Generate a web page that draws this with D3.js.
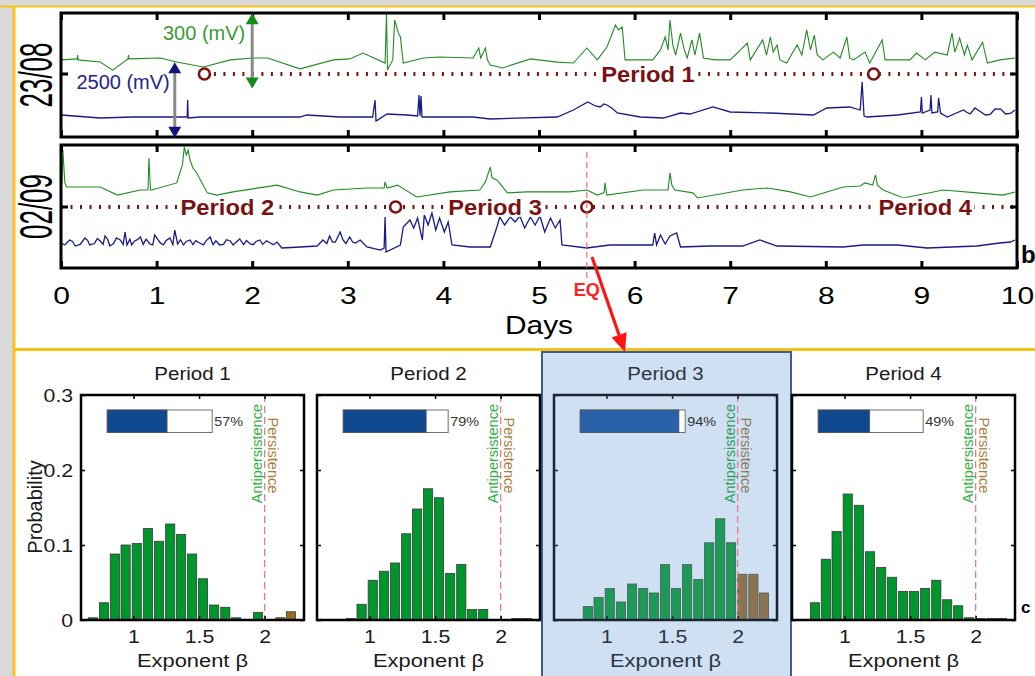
<!DOCTYPE html>
<html><head><meta charset="utf-8">
<script src="https://cdn.jsdelivr.net/npm/d3@7"></script>
<style>
body{margin:0;background:#d9d9d9;}
svg{display:block;font-family:"Liberation Sans",Arial,Helvetica,sans-serif;}
</style></head>
<body><svg id="c" width="1035" height="676"></svg>
<script>
// ================= DATA =================
const dayTicks = [0,1,2,3,4,5,6,7,8,9,10];
const dateLabels = ["23/08","02/09"];
// Green channel (mV, relative to the dotted reference line)
const green1 = [[0,58],[0.17,62],[0.173,78],[0.18,58],[0.41,49],[0.54,16],[0.70,62],[0.706,78],[0.71,62],[1.04,66],[1.21,49],[1.49,29],[1.77,58],[2.01,66],[2.16,66],[2.50,21],[2.85,58],[3.02,62],[3.16,86],[3.39,45],[3.405,251],[3.415,16],[3.47,58],[3.49,222],[3.53,168],[3.55,152],[3.58,45],[3.79,66],[3.96,70],[4.31,66],[4.37,107],[4.39,66],[4.44,107],[4.46,58],[4.49,37],[4.62,25],[4.91,62],[5.19,49],[5.36,45],[5.50,107],[5.61,58],[5.71,111],[5.76,160],[5.80,201],[5.83,181],[5.87,193],[5.88,152],[5.90,58],[6.19,58],[6.27,99],[6.32,152],[6.35,99],[6.37,222],[6.40,119],[6.43,78],[6.48,168],[6.52,99],[6.55,66],[6.60,140],[6.63,78],[6.68,168],[6.72,66],[6.84,58],[7.00,58],[7.18,127],[7.21,58],[7.34,140],[7.38,78],[7.42,152],[7.45,90],[7.49,119],[7.52,58],[7.59,45],[7.70,119],[7.75,78],[7.80,181],[7.84,99],[7.88,160],[7.91,78],[7.97,58],[8.08,90],[8.15,66],[8.22,152],[8.25,66],[8.29,58],[8.41,90],[8.46,45],[8.59,140],[8.62,58],[8.88,58],[8.95,86],[9.04,58],[9.14,90],[9.27,78],[9.32,168],[9.35,90],[9.40,148],[9.45,78],[9.48,119],[9.53,58],[9.64,131],[9.69,45],[9.82,58],[9.98,66]];
const green2 = [[0,247],[0.01,99],[0.02,234],[0.04,99],[0.06,82],[0.41,82],[0.59,49],[0.83,70],[0.91,70],[0.92,201],[0.936,70],[0.95,70],[1.21,99],[1.27,173],[1.29,247],[1.31,214],[1.33,234],[1.35,193],[1.38,160],[1.42,140],[1.53,58],[1.63,49],[1.80,62],[2.26,90],[2.50,62],[2.68,49],[2.85,70],[3.20,78],[3.38,78],[3.39,103],[3.41,78],[3.52,90],[3.72,41],[4.07,62],[4.38,70],[4.44,103],[4.49,164],[4.51,119],[4.56,111],[4.67,58],[4.87,62],[5.32,62],[5.50,70],[5.61,49],[5.68,58],[5.69,99],[5.71,49],[6.09,70],[6.35,70],[6.37,140],[6.39,90],[6.42,70],[6.61,58],[6.66,37],[7.13,70],[7.39,78],[7.63,62],[7.84,41],[8.18,82],[8.36,86],[8.41,99],[8.49,90],[8.52,132],[8.54,90],[8.60,70],[8.81,37],[9.23,70],[9.58,58],[9.85,49],[9.98,62]];
// Blue channel (mV, relative to the dotted reference line)
const blue1 = [[0,-1404],[0.41,-1507],[0.75,-1473],[1.32,-1473],[1.325,-890],[1.33,-1507],[1.45,-1473],[2.50,-1473],[2.57,-1404],[2.92,-1473],[3.26,-1473],[3.285,-890],[3.295,-1610],[3.41,-1370],[3.62,-1404],[3.73,-1438],[3.745,-719],[3.755,-1438],[3.766,-753],[3.776,-1473],[4.31,-1473],[4.49,-1541],[5.19,-1473],[5.36,-1233],[5.51,-959],[5.59,-1096],[5.64,-1130],[5.68,-1027],[5.71,-1062],[5.76,-1164],[5.82,-1336],[6.06,-1473],[6.30,-1507],[6.48,-1336],[6.58,-1370],[6.82,-1130],[7.00,-1301],[7.42,-1336],[7.87,-1404],[8.01,-1164],[8.25,-1130],[8.36,-1233],[8.38,-274],[8.40,-1438],[8.43,-1473],[8.75,-1404],[8.99,-1301],[9.00,-788],[9.01,-1336],[9.09,-1233],[9.10,-719],[9.11,-1336],[9.17,-1301],[9.18,-822],[9.20,-1336],[9.27,-1473],[9.44,-1233],[9.47,-1300],[9.51,-1370],[9.56,-1164],[9.60,-1250],[9.67,-1404],[9.72,-1380],[9.77,-1199],[9.83,-1200],[9.88,-1370],[9.93,-1350],[9.98,-1233]];
const blue2 = [[0,-1233],[0.04,-1300],[0.09,-1130],[0.12,-1180],[0.15,-1336],[0.20,-1280],[0.25,-1062],[0.28,-1150],[0.30,-1301],[0.35,-1250],[0.38,-1080],[0.41,-1164],[0.44,-1280],[0.46,-993],[0.49,-1120],[0.51,-1336],[0.55,-1250],[0.58,-1060],[0.62,-1130],[0.65,-1280],[0.67,-856],[0.69,-1301],[0.72,-1100],[0.74,-1300],[0.77,-1164],[0.80,-1120],[0.83,-1027],[0.86,-1280],[0.89,-1100],[0.93,-1267],[0.96,-1300],[0.98,-959],[1.01,-1100],[1.04,-1233],[1.07,-1300],[1.10,-1150],[1.14,-1062],[1.17,-1290],[1.19,-788],[1.22,-1267],[1.25,-1120],[1.28,-1300],[1.31,-1180],[1.35,-1130],[1.38,-1290],[1.41,-1150],[1.45,-1233],[1.49,-1300],[1.52,-1150],[1.56,-1027],[1.59,-1290],[1.62,-1160],[1.66,-1301],[1.70,-1280],[1.73,-1120],[1.77,-1164],[1.80,-1300],[1.84,-1180],[1.87,-1096],[1.91,-1290],[1.94,-1150],[1.98,-1267],[2.01,-1290],[2.04,-1180],[2.08,-1130],[2.11,-1280],[2.15,-1160],[2.19,-1233],[2.22,-1290],[2.26,-1199],[2.31,-1404],[2.50,-1370],[2.68,-1336],[2.74,-1130],[2.78,-1250],[2.81,-993],[2.84,-1200],[2.87,-1199],[2.92,-856],[2.95,-1130],[2.98,-1250],[3.02,-1027],[3.05,-1200],[3.08,-1233],[3.13,-1130],[3.20,-1370],[3.34,-1473],[3.38,-1404],[3.39,-342],[3.40,-1541],[3.55,-1301],[3.58,-685],[3.63,-514],[3.65,-445],[3.69,-719],[3.73,-377],[3.78,-1130],[3.80,-274],[3.84,-616],[3.88,-205],[3.92,-788],[3.96,-377],[4.01,-856],[4.05,-514],[4.09,-1301],[4.28,-1370],[4.49,-1370],[4.56,-685],[4.59,-342],[4.64,-616],[4.70,-342],[4.75,-514],[4.80,-308],[4.85,-719],[4.91,-342],[4.96,-616],[5.01,-308],[5.06,-856],[5.12,-377],[5.17,-719],[5.22,-445],[5.24,-1301],[5.50,-1404],[5.74,-1301],[6.19,-1301],[6.21,-890],[6.23,-1301],[6.27,-959],[6.32,-1267],[6.37,-993],[6.44,-890],[6.48,-1370],[6.79,-1336],[7.13,-1336],[7.31,-1130],[7.49,-1336],[8.18,-1370],[8.39,-1301],[8.75,-1301],[9.06,-1404],[9.58,-1336],[9.82,-1233],[9.93,-1199],[9.98,-1130]];
// Period boundaries (days) and labels
const markers1 = [1.5, 8.5];
const markers2 = [3.5, 5.5];
const periodLabels = [{panel:0, day:6.14, text:"Period 1"},{panel:1, day:1.74, text:"Period 2"},{panel:1, day:4.54, text:"Period 3"},{panel:1, day:9.04, text:"Period 4"}];
const eqDay = 5.5;
// scale bars (mV)
const greenBar = {day:2.0, lo:-60, hi:250, label:"300 (mV)"};
const blueBar  = {day:1.19, lo:-2180, hi:400, label:"2500 (mV)"};
// Histograms of exponent beta
const periods = ["Period 1","Period 2","Period 3","Period 4"];
const binCenters = [0.69,0.775,0.858,0.94,1.025,1.11,1.195,1.28,1.363,1.447,1.53,1.615,1.70,1.783,1.867,1.95,2.035,2.12,2.20];
const prob1 = [0.003,0.023,0.088,0.100,0.102,0.122,0.105,0.128,0.114,0.088,0.055,0.020,0.017,0.003,0,0.010,0,0.003,0.011];
const prob2 = [0,0,0.002,0.021,0.053,0.065,0.076,0.115,0.148,0.175,0.163,0.062,0.074,0.014,0.014,0,0,0.002,0.002];
const prob3 = [0,0,0.018,0.030,0.042,0.024,0.048,0.042,0.036,0.074,0.042,0.074,0.054,0.103,0.135,0.103,0.061,0.061,0.036];
const prob4 = [0,0.023,0.081,0.118,0.168,0.153,0.091,0.070,0.057,0.038,0.038,0.042,0.053,0.027,0.019,0.003,0.002,0.002,0.002];
const probs = [prob1,prob2,prob3,prob4];
const percents = [57,79,94,49];
const betaTicks = [1,1.5,2];
const probTicks = [0,0.1,0.2,0.3];

// ================= DRAW =================
const W=1035,H=676;
const svg=d3.select('#c');
const FONT='"Liberation Sans",Arial,sans-serif';

svg.append('rect').attr('width',W).attr('height',H).attr('fill','#d9d9d9');
svg.append('rect').attr('x',14).attr('y',7).attr('width',W-14).attr('height',H-7).attr('fill','#ffffff');
// highlight for period 3
svg.append('rect').attr('x',542).attr('y',352).attr('width',249).attr('height',340)
  .attr('fill','#cfe0f2').attr('stroke','#3d5c99').attr('stroke-width',2);
// yellow frame
const yel='#f7c21a';
svg.append('line').attr('x1',0).attr('x2',W).attr('y1',6.5).attr('y2',6.5).attr('stroke',yel).attr('stroke-width',2);
svg.append('line').attr('x1',14).attr('x2',14).attr('y1',6).attr('y2',H).attr('stroke',yel).attr('stroke-width',3);
svg.append('line').attr('x1',14).attr('x2',W).attr('y1',349.5).attr('y2',349.5).attr('stroke',yel).attr('stroke-width',3);

function txt(g,x,y,s,o){
  o=o||{};
  const sx=o.sx||1;
  let tr=`translate(${x},${y}) scale(${sx},1)`;
  if(o.rot) tr+=` rotate(${o.rot})`;
  return g.append('text').attr('transform',tr).attr('text-anchor',o.anchor||'start')
    .attr('font-size',o.size||16).attr('font-weight',o.bold?'bold':'normal')
    .attr('fill',o.fill||'#000').attr('font-family',FONT).text(s);
}

// ---------- top time series ----------
const x=d3.scaleLinear().domain([0,10]).range([61,1017]);
const panels=[{top:13,bottom:137,mid:74,g:green1,b:blue1},{top:145,bottom:268,mid:207,g:green2,b:blue2}];
const gCol='#228c22', bCol='#1a1a8a', dark='#7a1212';
panels.forEach((p,i)=>{
  const yG=d3.scaleLinear().domain([0,300]).range([p.mid,p.mid-73]);
  const yB=d3.scaleLinear().domain([0,2500]).range([p.mid,p.mid-73]);
  p.yG=yG; p.yB=yB;
  const gp=svg.append('g');
  const x0 = i===0 ? x(markers1[0]) : x(0);
  gp.append('line').attr('x1',x0).attr('x2',x(10)-4).attr('y1',p.mid).attr('y2',p.mid)
    .attr('stroke',dark).attr('stroke-width',4).attr('stroke-dasharray','2 7.5');
  gp.append('path').datum(p.g).attr('fill','none').attr('stroke',gCol).attr('stroke-width',1.1)
    .attr('d',d3.line().x(d=>x(d[0])).y(d=>yG(d[1])));
  gp.append('path').datum(p.b).attr('fill','none').attr('stroke',bCol).attr('stroke-width',1.3)
    .attr('d',d3.line().x(d=>x(d[0])).y(d=>yB(d[1])));
  gp.append('rect').attr('x',x(0)).attr('y',p.top).attr('width',x(10)-x(0)).attr('height',p.bottom-p.top)
    .attr('fill','none').attr('stroke','#000').attr('stroke-width',3);
  const at=gp.append('g').attr('transform',`translate(0,${p.top})`)
    .call(d3.axisTop(x).tickValues(dayTicks).tickSize(-7).tickFormat(''));
  const ab=gp.append('g').attr('transform',`translate(0,${p.bottom})`)
    .call(d3.axisBottom(x).tickValues(dayTicks).tickSize(-7).tickPadding(19)
      .tickFormat(i===1? d3.format('d') : ''));
  [at,ab].forEach(a=>{a.select('.domain').remove();a.selectAll('line').attr('stroke','#000').attr('stroke-width',3);});
  ab.selectAll('text').attr('font-size',24).attr('fill','#000').attr('font-family',FONT).attr('transform','scale(1.25,1)');
  gp.append('line').attr('x1',x(0)).attr('x2',x(0)+7).attr('y1',p.mid).attr('y2',p.mid).attr('stroke','#000').attr('stroke-width',3);
  gp.append('line').attr('x1',x(10)-7).attr('x2',x(10)).attr('y1',p.mid).attr('y2',p.mid).attr('stroke','#000').attr('stroke-width',3);
  txt(svg,52,(p.top+p.bottom)/2,dateLabels[i],{size:26,sx:1.75,rot:-90,anchor:'middle'});
});
[[0,markers1],[1,markers2]].forEach(([pi,ms])=>{
  svg.selectAll(null).data(ms).enter().append('circle')
    .attr('cx',d=>x(d)).attr('cy',panels[pi].mid).attr('r',5.5)
    .attr('fill','#fff').attr('stroke',dark).attr('stroke-width',2.6);
});
periodLabels.forEach(pl=>{
  const p=panels[pl.panel];
  const g=svg.append('g').attr('transform',`translate(${x(pl.day)},${p.mid+8}) scale(1.08,1)`);
  const t=g.append('text').attr('text-anchor','middle').attr('font-size',22).attr('font-weight','bold')
    .attr('fill',dark).attr('font-family',FONT).text(pl.text);
  const bb=t.node().getBBox();
  g.insert('rect','text').attr('x',bb.x-2).attr('y',bb.y+3).attr('width',bb.width+4).attr('height',bb.height-6).attr('fill','#fff');
});
function vArrow(xx,y1,y2,headCol){
  svg.append('line').attr('x1',xx).attr('x2',xx).attr('y1',y1+8).attr('y2',y2-8).attr('stroke','#8a8a8a').attr('stroke-width',3);
  svg.append('path').attr('d',`M${xx},${y1} L${xx-6.5},${y1+11} L${xx+6.5},${y1+11}Z`).attr('fill',headCol);
  svg.append('path').attr('d',`M${xx},${y2} L${xx-6.5},${y2-11} L${xx+6.5},${y2-11}Z`).attr('fill',headCol);
}
vArrow(x(greenBar.day),panels[0].yG(greenBar.hi),panels[0].yG(greenBar.lo),'#168a16');
vArrow(x(blueBar.day),panels[0].yB(blueBar.hi),panels[0].yB(blueBar.lo),'#14147e');
txt(svg,x(greenBar.day)-7,40,greenBar.label,{size:20,fill:'#3a9a3a',anchor:'end'});
txt(svg,x(blueBar.day)-5,89,blueBar.label,{size:20,fill:'#24248e',anchor:'end'});
svg.append('line').attr('x1',x(eqDay)).attr('x2',x(eqDay)).attr('y1',152).attr('y2',279)
  .attr('stroke','#ff6a6a').attr('stroke-width',1.2).attr('stroke-dasharray','6 4');
txt(svg,x(eqDay),296,'EQ',{size:18,bold:true,fill:'#ff2020',anchor:'middle'});
txt(svg,539,334,'Days',{size:26,sx:1.15,anchor:'middle'});
txt(svg,1021,263,'b',{size:24,bold:true});
(function(){
  const x1=592,y1=257,x2=625,y2=352;
  const dx=x2-x1,dy=y2-y1,len=Math.hypot(dx,dy),ux=dx/len,uy=dy/len;
  const hl=18,hw=8;
  const bx=x2-ux*hl,by=y2-uy*hl;
  svg.append('line').attr('x1',x1).attr('y1',y1).attr('x2',bx).attr('y2',by).attr('stroke','#ff1414').attr('stroke-width',3.2);
  svg.append('path').attr('d',`M${x2},${y2} L${bx-uy*hw},${by+ux*hw} L${bx+uy*hw},${by-ux*hw}Z`).attr('fill','#ff1414');
})();

// ---------- histograms ----------
const hLeft=[81,317,554,792], hW=223, hTop=395, hBot=620;
const y=d3.scaleLinear().domain([0,0.3]).range([hBot,hTop]);
periods.forEach((name,i)=>{
  const hx=d3.scaleLinear().domain([0.6,2.3]).range([hLeft[i],hLeft[i]+hW]);
  const hl=i===2;
  const tcol=hl?'#2a3646':'#1a1a1a';
  const g=svg.append('g');
  if(!hl) g.append('rect').attr('x',hLeft[i]).attr('y',hTop).attr('width',hW).attr('height',hBot-hTop).attr('fill','#fff');
  const bw=0.07;
  g.selectAll('rect.bar').data(binCenters.map((c,k)=>({c,v:probs[i][k]})).filter(d=>d.v>0)).enter()
    .append('rect').attr('class','bar')
    .attr('x',d=>hx(d.c-bw/2)).attr('width',d=>hx(d.c+bw/2)-hx(d.c-bw/2))
    .attr('y',d=>y(d.v)).attr('height',d=>y(0)-y(d.v))
    .attr('fill',d=>d.c<2?(hl?'#1e9a58':'#00962e'):(hl?'#8c7452':'#9a6a1e'))
    .attr('stroke',hl?'#4a5a5a':'#3a3a3a').attr('stroke-width',0.8);
  g.append('line').attr('x1',hx(2)).attr('x2',hx(2)).attr('y1',hTop).attr('y2',hBot)
    .attr('stroke','#f07a8a').attr('stroke-width',1.3).attr('stroke-dasharray','7 4');
  txt(g,hx(2)-3,y(0.288),'Antipersistence',{size:14.5,rot:-90,anchor:'end',fill:hl?'#2aa060':'#2fb040'});
  txt(g,hx(2)+3,y(0.27),'Persistence',{size:14.5,rot:90,anchor:'start',fill:hl?'#8c7a60':'#a8803c'});
  const px0=hx(0.8), px1=hx(1.6);
  g.append('rect').attr('x',px0).attr('y',y(0.28)).attr('width',px1-px0).attr('height',y(0.25)-y(0.28))
    .attr('fill','#fff').attr('stroke','#707070').attr('stroke-width',1);
  g.append('rect').attr('x',px0).attr('y',y(0.28)).attr('width',(px1-px0)*percents[i]/100).attr('height',y(0.25)-y(0.28))
    .attr('fill',hl?'#2a62aa':'#0f4a90').attr('stroke','#555').attr('stroke-width',0.8);
  txt(g,px1+2,y(0.265)+5,percents[i]+'%',{size:12.5,sx:1.15,fill:'#333'});
  g.append('rect').attr('x',hLeft[i]).attr('y',hTop).attr('width',hW).attr('height',hBot-hTop)
    .attr('fill','none').attr('stroke',hl?'#1a2636':'#000').attr('stroke-width',2.5);
  const axB=g.append('g').attr('transform',`translate(0,${hBot})`)
    .call(d3.axisBottom(hx).tickValues(betaTicks).tickSize(-4).tickPadding(10).tickFormat(d3.format('')));
  const axT=g.append('g').attr('transform',`translate(0,${hTop})`)
    .call(d3.axisTop(hx).tickValues(betaTicks).tickSize(-4).tickFormat(''));
  const axL=g.append('g').attr('transform',`translate(${hLeft[i]},0)`)
    .call(d3.axisLeft(y).tickValues(probTicks).tickSize(-4).tickPadding(7).tickFormat(i===0?d3.format(''):''));
  const axR=g.append('g').attr('transform',`translate(${hLeft[i]+hW},0)`)
    .call(d3.axisRight(y).tickValues(probTicks).tickSize(-4).tickFormat(''));
  [axB,axT,axL,axR].forEach(a=>{a.select('.domain').remove();a.selectAll('line').attr('stroke',hl?'#1a2636':'#000').attr('stroke-width',1.5);});
  [axB,axL].forEach(a=>a.selectAll('text').attr('font-size',19).attr('fill',tcol).attr('font-family',FONT).attr('transform','scale(1.12,1)'));
  axB.selectAll('text').attr('dy','0.71em');
  const cx=hLeft[i]+hW/2;
  txt(g,cx,380,name,{size:19,sx:1.08,anchor:'middle',fill:tcol});
  txt(g,cx,667,'Exponent β',{size:19,sx:1.15,anchor:'middle',fill:tcol});
});
txt(svg,42,507,'Probability',{size:20,rot:-90,anchor:'middle',fill:'#1a1a1a'});
txt(svg,1021,613,'c',{size:17,bold:true});
</script></body></html>
